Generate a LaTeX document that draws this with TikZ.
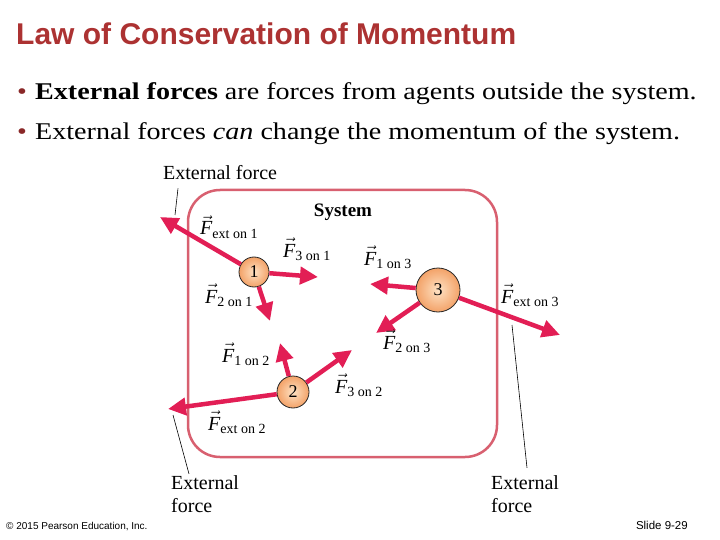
\documentclass[tikz,border=0pt]{standalone}
\usepackage{fontspec}
\usepackage{amsmath}
\setmainfont{Liberation Serif}
\setsansfont{Liberation Sans}
\newfontfamily\slidefont[FakeStretch=1.17]{Liberation Serif}
\usetikzlibrary{arrows.meta}
\definecolor{titlered}{RGB}{172,50,50}
\definecolor{forcered}{RGB}{226,30,85}
\definecolor{boxpink}{RGB}{216,96,112}
\definecolor{ballin}{RGB}{254,226,196}
\definecolor{ballout}{RGB}{243,162,104}
\tikzstyle{force}  = [line width=4.5pt, forcered, -{Triangle[length=18pt,width=17pt]}]
\tikzstyle{ball}   = [circle, draw=black!85, line width=0.8pt, inner sep=0pt, inner color=ballin, outer color=ballout, font=\fontsize{18}{20}\selectfont]
\tikzstyle{flabel} = [anchor=base west, inner sep=0pt, font=\fontsize{20}{22}\selectfont]
\tikzstyle{extlab} = [anchor=base west, inner sep=0pt, font=\fontsize{20}{23}\selectfont]
\tikzstyle{bullet} = [anchor=base west, inner sep=0pt, font=\slidefont\fontsize{24}{28}\selectfont]
\tikzstyle{leader} = [black, line width=0.6pt]
\newcommand{\Fvec}[1]{$\vec{\textit{F}}_{\textrm{#1}}$}

\begin{document}
\begin{tikzpicture}[x=1pt,y=-1pt]
    \useasboundingbox (0,0) rectangle (720,540);
    % slide text
    \node[anchor=base west, inner sep=0pt, titlered, font=\sffamily\bfseries\fontsize{30}{34}\selectfont] (title) at (16,45) {Law of Conservation of Momentum};
    \node[bullet, titlered!80!black] (dot1) at (17,100) {\textbullet};
    \node[bullet] (line1) at (35,100) {\textbf{External forces} are forces from agents outside the system.};
    \node[bullet, titlered!80!black] (dot2) at (17,140) {\textbullet};
    \node[bullet] (line2) at (35,140) {External forces \textit{can} change the momentum of the system.};
    \node[anchor=base west, inner sep=0pt, font=\sffamily\fontsize{10}{12}\selectfont] (copy) at (6,529) {\textcopyright{} 2015 Pearson Education, Inc.};
    \node[anchor=base east, inner sep=0pt, font=\sffamily\fontsize{11.5}{13}\selectfont] (slide) at (688,529) {Slide 9-29};

    % system boundary
    \draw[boxpink, line width=2.5pt, rounded corners=32pt] (188,190) rectangle (497,457);
    \node[font=\bfseries\fontsize{19}{22}\selectfont] (sys) at (343,212) {System};

    % particles
    \node[ball, minimum size=30pt] (b1) at (254,272) {1};
    \node[ball, minimum size=44pt] (b3) at (438,290) {3};
    \node[ball, minimum size=32pt] (b2) at (293,392) {2};

    % arrow tips
    \coordinate (e1)  at (160,217);
    \coordinate (f31) at (318,277);
    \coordinate (f21) at (270,321);
    \coordinate (f13) at (370,284);
    \coordinate (f23) at (376,333);
    \coordinate (e3)  at (560,335);
    \coordinate (f12) at (280,343);
    \coordinate (f32) at (352,350);
    \coordinate (e2)  at (168,409);

    \draw[force] (b1) -- (e1);
    \draw[force] (b1) -- (f31);
    \draw[force] (b1) -- (f21);
    \draw[force] (b3) -- (f13);
    \draw[force] (b3) -- (f23);
    \draw[force] (b3) -- (e3);
    \draw[force] (b2) -- (f12);
    \draw[force] (b2) -- (f32);
    \draw[force] (b2) -- (e2);

    % force labels
    \node[flabel] (le1)  at (200,235) {\Fvec{ext on 1}};
    \node[flabel] (l31)  at (283,257) {\Fvec{3 on 1}};
    \node[flabel] (l21)  at (205,303) {\Fvec{2 on 1}};
    \node[flabel] (l13)  at (364,265) {\Fvec{1 on 3}};
    \node[flabel] (le3)  at (501,303) {\Fvec{ext on 3}};
    \node[flabel] (l23)  at (383,349) {\Fvec{2 on 3}};
    \node[flabel] (l12)  at (222,362) {\Fvec{1 on 2}};
    \node[flabel] (l32)  at (335,393) {\Fvec{3 on 2}};
    \node[flabel] (le2)  at (208,430) {\Fvec{ext on 2}};

    % external force callouts
    \node[extlab] (xt)  at (163,180) {External force};
    \node[extlab] (xl)  at (171,489) {External};
    \node[extlab] (xl2) at (171,512) {force};
    \node[extlab] (xr)  at (491,489) {External};
    \node[extlab] (xr2) at (491,512) {force};
    \coordinate (pt) at (175,215);
    \coordinate (pl) at (173,415);
    \coordinate (pr) at (512,325);
    \draw[leader] (xt.south west) ++(15,8) -- (pt);
    \draw[leader] (xl.north west) ++(18,-1) -- (pl);
    \draw[leader] (xr.north west) ++(36,-7) -- (pr);
\end{tikzpicture}
\end{document}
